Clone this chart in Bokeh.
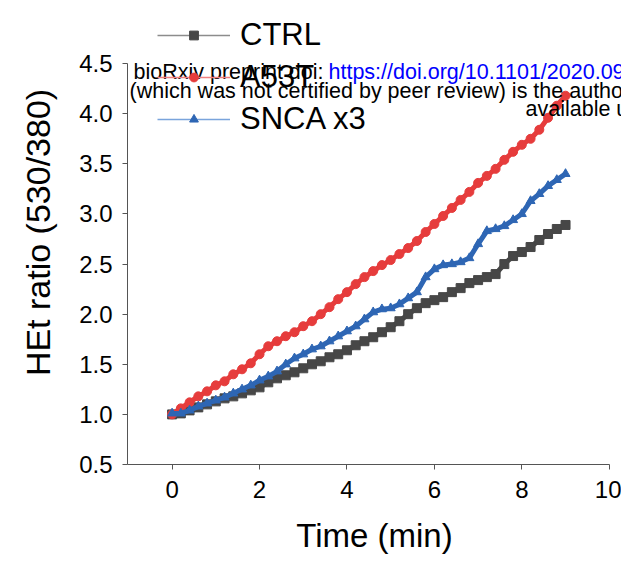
from bokeh.plotting import figure
from bokeh.models import Range1d, Legend, LegendItem, Label, CustomJSTickFormatter
from bokeh.embed import file_html
from bokeh.resources import INLINE

time_min = [0.0, 0.2, 0.4, 0.6, 0.8, 1.0, 1.2, 1.4, 1.6, 1.8,
            2.0, 2.2, 2.4, 2.6, 2.8, 3.0, 3.2, 3.4, 3.6, 3.8,
            4.0, 4.2, 4.4, 4.6, 4.8, 5.0, 5.2, 5.4, 5.6, 5.8,
            6.0, 6.2, 6.4, 6.6, 6.8, 7.0, 7.2, 7.4, 7.6, 7.8,
            8.0, 8.2, 8.4, 8.6, 8.8, 9.0]

ctrl = [1.00, 1.01, 1.04, 1.07, 1.10, 1.13, 1.16, 1.18, 1.21, 1.24,
        1.27, 1.32, 1.36, 1.39, 1.42, 1.46, 1.50, 1.53, 1.57, 1.60,
        1.64, 1.69, 1.73, 1.77, 1.82, 1.87, 1.93, 2.00, 2.06, 2.11,
        2.14, 2.17, 2.22, 2.26, 2.31, 2.34, 2.37, 2.40, 2.50, 2.58,
        2.62, 2.67, 2.74, 2.80, 2.85, 2.89]

a53t = [1.00, 1.06, 1.12, 1.18, 1.23, 1.29, 1.33, 1.40, 1.45, 1.51,
        1.60, 1.68, 1.73, 1.78, 1.82, 1.88, 1.93, 2.00, 2.07, 2.15,
        2.22, 2.30, 2.37, 2.43, 2.49, 2.54, 2.60, 2.66, 2.73, 2.82,
        2.90, 2.98, 3.06, 3.14, 3.22, 3.31, 3.38, 3.45, 3.54, 3.62,
        3.69, 3.75, 3.84, 3.96, 4.08, 4.18]

snca_x3 = [1.01, 1.01, 1.04, 1.08, 1.11, 1.14, 1.17, 1.21, 1.25, 1.29,
           1.34, 1.38, 1.43, 1.50, 1.56, 1.60, 1.65, 1.68, 1.73, 1.78,
           1.83, 1.88, 1.95, 2.02, 2.05, 2.06, 2.10, 2.16, 2.22, 2.37,
           2.45, 2.49, 2.50, 2.52, 2.56, 2.70, 2.83, 2.85, 2.88, 2.94,
           3.00, 3.13, 3.20, 3.28, 3.34, 3.40]

series_names = ["CTRL", "A53T", "SNCA x3"]
x_ticks = [0, 2, 4, 6, 8, 10]
y_ticks = [0.5, 1.0, 1.5, 2.0, 2.5, 3.0, 3.5, 4.0, 4.5]

FONT = "Liberation Sans"

# frame geometry (pixels): frame spans to the right edge, axis bounded at 10
W, H = 621, 562
LEFT, RIGHT_PAD, BOTTOM = 127, 0, 98
X0, X1 = -1.02, 10.28
Y0, YTOP = 0.5, 5.13

p = figure(width=W, height=H, output_backend="svg", toolbar_location=None,
           x_range=Range1d(X0, X1), y_range=Range1d(Y0, YTOP),
           min_border_left=LEFT, min_border_right=RIGHT_PAD, min_border_top=0,
           min_border_bottom=BOTTOM)
p.outline_line_color = None
p.grid.visible = False
p.background_fill_color = "white"
p.border_fill_color = "white"

styles = [
    (ctrl, "#474747", "#8c8c8c", "square"),
    (a53t, "#e63c3c", "#f08080", "circle"),
    (snca_x3, "#2e66b4", "#7aa4dc", "triangle"),
]
items = []
for name, (vals, mcol, lcol, marker) in zip(series_names, styles):
    thin = p.line(time_min, vals, line_color=lcol, line_width=1.5)
    p.line(time_min, vals, line_color=mcol, line_width=5)
    sc = p.scatter(time_min, vals, marker=marker, size=9, fill_color=mcol,
                   line_color=mcol)
    items.append(LegendItem(label=name, renderers=[thin, sc]))

for ax in (p.xaxis, p.yaxis):
    ax.axis_line_color = "#555555"
    ax.major_tick_line_color = "#555555"
    ax.minor_tick_line_color = "#555555"
    ax.major_tick_in = 0
    ax.major_tick_out = 5
    ax.minor_tick_in = 0
    ax.minor_tick_out = 3
    ax.major_label_text_font = FONT
    ax.major_label_text_font_size = "24px"
    ax.major_label_text_color = "black"
    ax.axis_label_text_font = FONT
    ax.axis_label_text_font_style = "normal"
    ax.axis_label_text_color = "black"

p.xaxis.ticker = x_ticks
p.xaxis.ticker.num_minor_ticks = 2
p.xaxis.bounds = (X0, 10)
p.yaxis.ticker = y_ticks
p.yaxis.ticker.num_minor_ticks = 2
p.yaxis.bounds = (Y0, 4.5)
p.yaxis.formatter = CustomJSTickFormatter(code="return tick.toFixed(1);")
p.xaxis.axis_label = "Time (min)"
p.yaxis.axis_label = "HEt ratio (530/380)"
p.xaxis.axis_label_text_font_size = "33px"
p.yaxis.axis_label_text_font_size = "34px"
p.xaxis.major_label_standoff = 11
p.yaxis.major_label_standoff = 10
p.xaxis.axis_label_standoff = 16
p.yaxis.axis_label_standoff = 19

legend = Legend(items=items, location=(30, 327), glyph_width=73, glyph_height=22,
                label_height=37, spacing=5, padding=0, margin=0,
                label_standoff=10, label_text_font=FONT,
                label_text_font_size="31px", label_text_color="black",
                border_line_color=None, background_fill_alpha=0)
p.add_layout(legend, "center")

# overlay texts of the preprint banner, positioned by page pixel -> data
frame_w = W - LEFT - RIGHT_PAD
frame_h = H - BOTTOM

def to_data(px, py):
    x = X0 + (px - LEFT) * (X1 - X0) / frame_w
    y = Y0 + (frame_h - py) * (YTOP - Y0) / frame_h
    return x, y

banner = [
    ("bioRxiv preprint doi: ", "black", 133, 71),
    ("https://doi.org/10.1101/2020.09", "blue", 328, 71),
    ("(which was not certified by peer review) is the author", "black", 129, 90),
    ("available u", "black", 525, 108),
]
for txt, col, px, py in banner:
    x, y = to_data(px, py)
    p.add_layout(Label(x=x, y=y, text=txt, text_font=FONT, text_font_size="21.5px",
                       text_color=col, text_baseline="middle", text_align="left"))

open("out.html", "w").write(file_html(p, INLINE))
